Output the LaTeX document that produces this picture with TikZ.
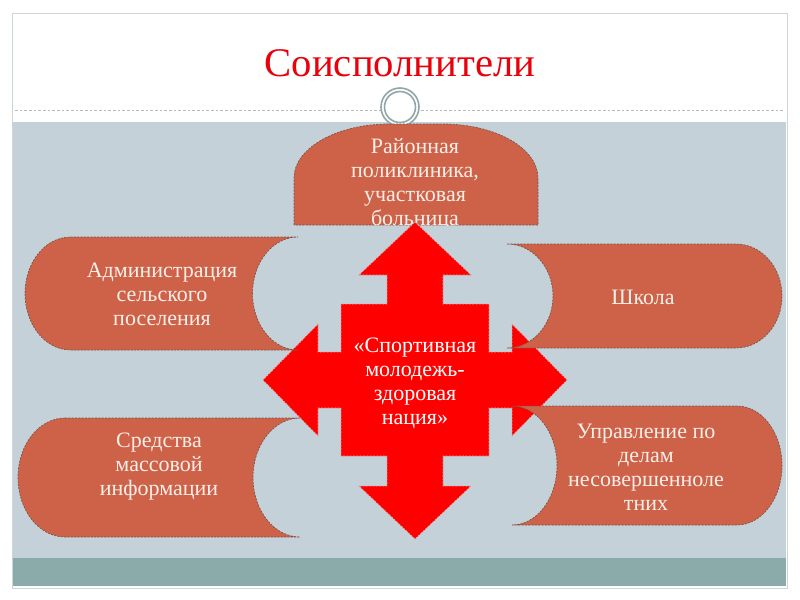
\documentclass[tikz,border=0pt]{standalone}
\usepackage{fontspec}
\setmainfont{Liberation Serif}

\definecolor{slidegray}{HTML}{C5D1D8}
\definecolor{bandteal}{HTML}{8BABAB}
\definecolor{framegray}{HTML}{CBD5DA}
\definecolor{ringteal}{HTML}{8FA7A8}
\definecolor{pillfill}{HTML}{CD6249}
\definecolor{pilledge}{HTML}{7A5248}
\definecolor{pilltext}{HTML}{FBEFE8}
\definecolor{crossred}{HTML}{FF0000}
\definecolor{crossedge}{HTML}{D8A8A8}
\definecolor{titlered}{HTML}{E8000B}

\tikzset{
  pill/.style={fill=pillfill, draw=pilledge, line width=0.5pt, dash pattern=on 1.5pt off 1pt},
  pilltext/.style={text=pilltext, align=center, font=\fontsize{16.5}{18}\selectfont},
  cross/.style={fill=crossred, draw=crossedge, line width=0.5pt, dash pattern=on 1.5pt off 1pt},
}

\begin{document}
\begin{tikzpicture}[x=0.75pt, y=-0.75pt]
\useasboundingbox (0,0) rectangle (800,600);

    % slide
    \fill[white] (0,0) rectangle (800,600);
    \draw[framegray, fill=white] (12,13) rectangle (787,588);
    \fill[slidegray] (13,122) rectangle (786,558);
    \fill[bandteal] (13,558) rectangle (786,586);
    \draw[gray!55, dash pattern=on 2pt off 1.5pt] (15,110) -- (785,110);

    \node[text=titlered, font=\fontsize{30.5}{34}\selectfont] (title) at (400,63) {Соисполнители};

    \draw[ringteal, line width=1.2pt, fill=white] (400,107) circle (19);
    \draw[ringteal, line width=1.2pt] (400,107) circle (15.5);

    % top box
    \draw[pill] (294,225) -- (294,178)
      arc[start angle=180, end angle=270, x radius=95, y radius=54] -- (443,124)
      arc[start angle=270, end angle=360, x radius=95, y radius=54] -- (538,225) -- cycle;
    \begin{scope}
      \clip (294,225) rectangle (538,120);
      \node[pilltext] (hospital) at (415,184) {Районная\\поликлиника,\\участковая\\больница};
    \end{scope}

    % cross
    \draw[cross] (415,222) -- (471,275) -- (443,275) -- (443,304) -- (489,304) -- (489,352)
      -- (512,352) -- (512,324) -- (567,380) -- (512,436) -- (512,408) -- (489,408)
      -- (489,456) -- (443,456) -- (443,486) -- (471,486) -- (415,539) -- (359,486)
      -- (387,486) -- (387,456) -- (341,456) -- (341,408) -- (318,408) -- (318,436)
      -- (263,380) -- (318,324) -- (318,352) -- (341,352) -- (341,304) -- (387,304)
      -- (387,275) -- (359,275) -- cycle;
    \node[pilltext, text=white] (center) at (415,383) {«Спортивная\\молодежь-\\здоровая\\нация»};

    % side boxes
    \draw[pill] (70.5,237) -- (298,237)
      arc[start angle=270, end angle=90, x radius=45.5, y radius=56.5] -- (70.5,350)
      arc[start angle=90, end angle=270, x radius=45.5, y radius=56.5] -- cycle;
    \draw[pill] (507,244) -- (736,244)
      arc[start angle=270, end angle=450, x radius=46, y radius=52] -- (507,348)
      arc[start angle=90, end angle=-90, x radius=46, y radius=52] -- cycle;
    \draw[pill] (65,418) -- (300,418)
      arc[start angle=270, end angle=90, x radius=47, y radius=59.5] -- (65,537)
      arc[start angle=90, end angle=270, x radius=47, y radius=59.5] -- cycle;
    \draw[pill] (512,406) -- (737,406)
      arc[start angle=270, end angle=450, x radius=45, y radius=59.5] -- (512,525)
      arc[start angle=90, end angle=-90, x radius=45, y radius=59.5] -- cycle;

    \node[pilltext] (admin) at (162,294) {Администрация\\сельского\\поселения};
    \node[pilltext] (school) at (643,297) {Школа};
    \node[pilltext] (media) at (159,467) {Средства\\массовой\\информации};
    \node[pilltext] (minors) at (646,467) {Управление по\\делам\\несовершенноле\\тних};

\end{tikzpicture}
\end{document}
